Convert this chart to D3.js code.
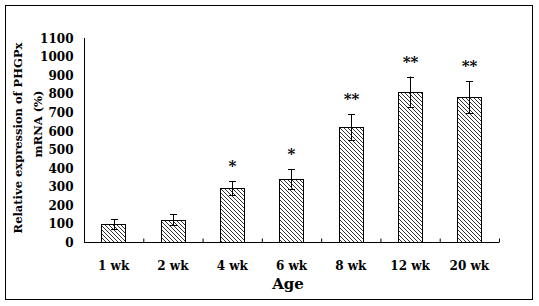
<!DOCTYPE html>
<html>
<head>
<meta charset="utf-8">
<script src="https://d3js.org/d3.v7.min.js"></script>
<style>
  body { margin: 0; background: #fff; }
  text { font-family: "DejaVu Serif", serif; font-weight: bold; fill: #000; }
</style>
</head>
<body>
<div id="chart"></div>
<script>
// data
var ages     = ["1 wk", "2 wk", "4 wk", "6 wk", "8 wk", "12 wk", "20 wk"];
var values   = [95, 120, 290, 340, 620, 810, 780];
var errors   = [27, 30, 37, 52, 70, 82, 86];
var marks    = ["", "", "*", "*", "**", "**", "**"];
var y_ticks  = [0, 100, 200, 300, 400, 500, 600, 700, 800, 900, 1000, 1100];

var rows = ages.map(function(a, i) {
	return { age: a, value: values[i], err: errors[i], mark: marks[i] };
});

// --------------------------------------------------------

var chart_width  = 539;
var chart_height = 306;
var plot = { left: 84, right: 499, top: 38, bottom: 242 };

var svg = d3.select("#chart")
	.append("svg")
	.attr("width", chart_width)
	.attr("height", chart_height);

// hatch fill
svg.append("defs")
	.append("pattern")
	.attr("id", "hatch")
	.attr("patternUnits", "userSpaceOnUse")
	.attr("width", 4)
	.attr("height", 4)
	.append("path")
	.attr("d", "M0,0 L4,4 M-1,3 L1,5 M3,-1 L5,1")
	.attr("stroke", "#000")
	.attr("stroke-width", 0.8);

// outer frame
svg.append("rect")
	.attr("x", 5.5)
	.attr("y", 5.5)
	.attr("width", 527)
	.attr("height", 294)
	.attr("fill", "none")
	.attr("stroke", "#000")
	.attr("stroke-width", 1);

// --------------------------------------------------------
// scales

var x_scale = d3.scaleBand()
	.domain(ages)
	.range([plot.left, plot.right])
	.paddingInner(0.59)
	.paddingOuter(0.295);

var x_edges = d3.scaleLinear()
	.domain([0, ages.length])
	.range([plot.left, plot.right]);

var y_scale = d3.scaleLinear()
	.domain([0, 1100])
	.range([plot.bottom, plot.top]);

// --------------------------------------------------------
// axes

var y_axis = d3.axisLeft(y_scale)
	.tickValues(y_ticks)
	.tickFormat(d3.format("d"))
	.tickSize(0)
	.tickPadding(11);

svg.append("g")
	.attr("class", "y-axis")
	.attr("transform", "translate(" + (plot.left + 0.5) + ",0)")
	.call(y_axis)
	.call(function(g) {
		g.select(".domain").attr("stroke", "#000").attr("d", "M0," + plot.top + "V" + (plot.bottom + 0.5));
		g.selectAll("text").attr("font-size", 12).attr("font-family", null).attr("dy", "0.36em");
	});

// x axis line with ticks between groups
var x_axis = d3.axisBottom(x_edges)
	.tickValues(d3.range(1, ages.length + 1))
	.tickSize(-4)
	.tickFormat("");

svg.append("g")
	.attr("class", "x-axis")
	.attr("transform", "translate(0," + (plot.bottom + 0.5) + ")")
	.call(x_axis)
	.call(function(g) {
		g.select(".domain").attr("stroke", "#000").attr("d", "M" + plot.left + ",0H" + plot.right);
		g.selectAll("line").attr("stroke", "#000");
	});

// category labels
svg.append("g")
	.selectAll("text")
	.data(rows)
	.enter()
	.append("text")
	.attr("x", function(d) { return x_scale(d.age) + x_scale.bandwidth() / 2; })
	.attr("y", 270)
	.attr("text-anchor", "middle")
	.attr("font-size", 12)
	.text(function(d) { return d.age; });

// --------------------------------------------------------
// bars

svg.append("g")
	.selectAll("rect")
	.data(rows)
	.enter()
	.append("rect")
	.attr("x", function(d) { return Math.round(x_scale(d.age)) + 0.5; })
	.attr("y", function(d) { return Math.round(y_scale(d.value)) + 0.5; })
	.attr("width", Math.round(x_scale.bandwidth()))
	.attr("height", function(d) { return plot.bottom - Math.round(y_scale(d.value)); })
	.attr("fill", "url(#hatch)")
	.attr("stroke", "#000")
	.attr("stroke-width", 1);

// error bars
var err = svg.append("g")
	.selectAll("g")
	.data(rows)
	.enter()
	.append("g")
	.attr("transform", function(d) {
		return "translate(" + (Math.round(x_scale(d.age) + x_scale.bandwidth() / 2) + 0.5) + ",0)";
	});

err.append("line")
	.attr("y1", function(d) { return y_scale(d.value + d.err); })
	.attr("y2", function(d) { return y_scale(d.value - d.err); })
	.attr("stroke", "#000");

err.append("line")
	.attr("x1", -3.5).attr("x2", 3.5)
	.attr("y1", function(d) { return Math.round(y_scale(d.value + d.err)) + 0.5; })
	.attr("y2", function(d) { return Math.round(y_scale(d.value + d.err)) + 0.5; })
	.attr("stroke", "#000");

err.append("line")
	.attr("x1", -3.5).attr("x2", 3.5)
	.attr("y1", function(d) { return Math.round(y_scale(d.value - d.err)) + 0.5; })
	.attr("y2", function(d) { return Math.round(y_scale(d.value - d.err)) + 0.5; })
	.attr("stroke", "#000");

// significance marks
err.append("text")
	.attr("x", 0)
	.attr("y", function(d) { return y_scale(d.value + d.err) - 10; })
	.attr("text-anchor", "middle")
	.attr("font-size", 15)
	.text(function(d) { return d.mark; });

// --------------------------------------------------------
// titles

svg.append("text")
	.attr("x", 288)
	.attr("y", 289)
	.attr("text-anchor", "middle")
	.attr("font-size", 15)
	.text("Age");

svg.append("text")
	.attr("transform", "translate(22,138) rotate(-90)")
	.attr("text-anchor", "middle")
	.attr("font-size", 11.5)
	.text("Relative expression of PHGPx");

svg.append("text")
	.attr("transform", "translate(42,124) rotate(-90)")
	.attr("text-anchor", "middle")
	.attr("font-size", 11.5)
	.text("mRNA (%)");
</script>
</body>
</html>
